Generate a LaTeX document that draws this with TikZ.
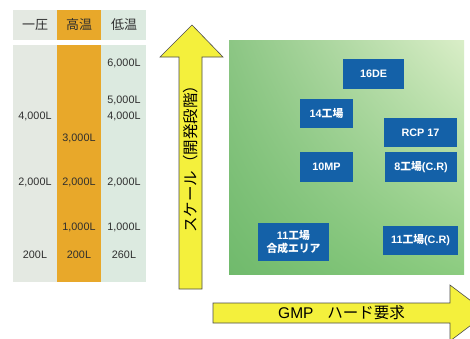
\documentclass[tikz,border=0pt]{standalone}
\usepackage{fontspec}
\usetikzlibrary{shadings}
\setmainfont{Liberation Sans}
\newfontfamily\jp{Noto Sans CJK JP}
\definecolor{cellgray}{HTML}{E4E9E2}
\definecolor{cellgreen}{HTML}{DCEAE0}
\definecolor{cellorange}{HTML}{E8A82A}
\definecolor{arrowyellow}{HTML}{F4F03C}
\definecolor{boxblue}{HTML}{1461A8}
\definecolor{txtdark}{HTML}{2E2E2E}
\definecolor{gUL}{RGB}{140,198,132}
\definecolor{gUR}{RGB}{218,238,200}
\definecolor{gLL}{RGB}{112,186,108}
\definecolor{gLR}{RGB}{140,204,128}
\tikzset{
  num/.style={font=\fontsize{10.8}{12}\selectfont, text=txtdark, inner sep=0pt},
  head/.style={font=\jp\fontsize{13}{14}\selectfont, text=txtdark, inner sep=0pt},
  bluebox/.style={fill=boxblue, draw=none, text=white, align=center, inner sep=0pt,
    font=\bfseries\fontsize{10.8}{13}\selectfont},
  yarrow/.style={fill=arrowyellow, draw=black!70, line width=0.6pt, line join=miter},
}
\begin{document}
\begin{tikzpicture}[x=1pt,y=-1pt]
\useasboundingbox (0,0) rectangle (470,338);
\clip (0,0) rectangle (470,338);
\fill[white] (0,0) rectangle (470,338);
% table
\fill[cellgray] (13,10) rectangle (57,40);
\fill[cellorange] (57,10) rectangle (101,40);
\fill[cellgreen] (101,10) rectangle (146,40);
\fill[cellgray] (13,45) rectangle (57,282);
\fill[cellorange] (57,45) rectangle (101,282);
\fill[cellgreen] (101,45) rectangle (146,282);
\node[head] (h1) at (35,25) {一圧};
\node[head] (h2) at (79,25) {高温};
\node[head] (h3) at (124,25) {低温};
\node[num] (r1) at (124,63) {6,000L};
\node[num] (r2) at (124,100) {5,000L};
\node[num] (r3) at (124,116) {4,000L};
\node[num] (l1) at (35,116) {4,000L};
\node[num] (o1) at (79,138) {3,000L};
\node[num] (l2) at (35,182) {2,000L};
\node[num] (o2) at (79,182) {2,000L};
\node[num] (r4) at (124,182) {2,000L};
\node[num] (o3) at (79,227) {1,000L};
\node[num] (r5) at (124,227) {1,000L};
\node[num] (l3) at (35,255) {200L};
\node[num] (o4) at (79,255) {200L};
\node[num] (r6) at (124,255) {260L};
% green field
\shade[upper left=gUL, upper right=gUR, lower left=gLL, lower right=gLR]
  (229,40) rectangle (464,274);
% vertical arrow
\draw[yarrow] (179,289) -- (179,57) -- (160,57) -- (192,25) -- (223,57) -- (202,57) -- (202,289) -- cycle;
\node[font=\jp\fontsize{15.5}{16}\selectfont, rotate=90, inner sep=0pt, text=black] (ylab) at (191,155) {スケール（開発段階）};
% horizontal arrow
\draw[yarrow] (213,303) -- (450,303) -- (450,285) -- (487,313) -- (450,341) -- (450,323) -- (213,323) -- cycle;
\node[font=\fontsize{15.5}{16}\selectfont, inner sep=0pt, anchor=west, text=black] (xlab) at (278,313) {GMP\hspace{0.9em}{\jp ハード要求}};
% blue boxes
\node[bluebox, minimum width=61pt, minimum height=30pt] (b1) at (373.5,74) {16DE};
\node[bluebox, minimum width=53pt, minimum height=29pt] (b2) at (326.5,113.5) {14{\jp 工場}};
\node[bluebox, minimum width=73pt, minimum height=29pt] (b3) at (420.5,132.5) {RCP 17};
\node[bluebox, minimum width=53pt, minimum height=30pt] (b4) at (326.5,167) {10MP};
\node[bluebox, minimum width=72pt, minimum height=30pt] (b5) at (421,167) {8{\jp 工場}(C.R)};
\node[bluebox, minimum width=71pt, minimum height=38pt] (b6) at (293.5,242) {11{\jp 工場}\\{\jp 合成エリア}};
\node[bluebox, minimum width=75pt, minimum height=29pt] (b7) at (420.5,240.5) {11{\jp 工場}(C.R)};
\end{tikzpicture}
\end{document}
